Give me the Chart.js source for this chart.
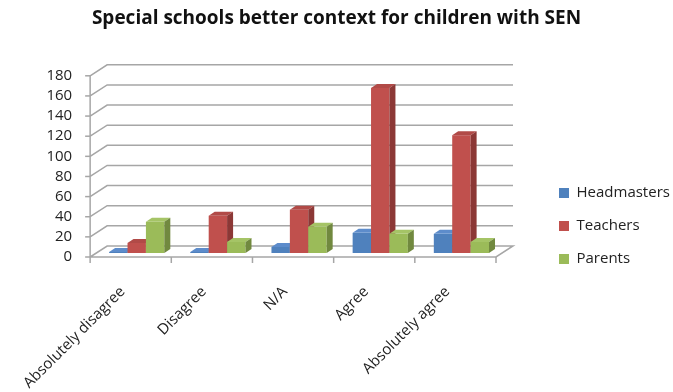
<!DOCTYPE html>
<html>
<head>
<meta charset="utf-8">
<script src="https://cdn.jsdelivr.net/npm/chart.js@4/dist/chart.umd.min.js"></script>
<style>
  html,body{margin:0;padding:0;background:#fff;}
  #wrap{width:673px;height:392px;}
</style>
</head>
<body>
<div id="wrap"><canvas id="chart" width="673" height="392"></canvas></div>
<script>
const categories=["Absolutely disagree","Disagree","N/A","Agree","Absolutely agree"];
const headmasters=[1,1,6,20,19];
const teachers=[10,37,43,164,117];
const parents=[31,11,26,19,11];
const yTicks=[0,20,40,60,80,100,120,140,160,180];

// front / top / side colours for the fake 3D bars
const shades={
  "#4F81BD":{top:"#5d8ccb",side:"#385d8a"},
  "#C0504D":{top:"#b14a47",side:"#8c3836"},
  "#9BBB59":{top:"#a5c466",side:"#71893f"}
};
const FONT="'Open Sans', sans-serif";

// walls + bars drawn by hand to get the Excel 3D look
const fake3d={
  id:"fake3d",
  beforeDatasetsDraw(chart){
    const ctx=chart.ctx, a=chart.chartArea, y=chart.scales.y;
    const gx=17, gy=11;
    ctx.save();
    ctx.strokeStyle="#a6a6a6";
    ctx.lineWidth=1.5;
    yTicks.forEach(v=>{
      const py=y.getPixelForValue(v);
      ctx.beginPath();
      ctx.moveTo(a.left,py);
      ctx.lineTo(a.left+gx,py-gy);
      ctx.lineTo(a.right+gx,py-gy);
      if(v===0){ ctx.lineTo(a.right,py); ctx.lineTo(a.left,py); }
      ctx.stroke();
      // little tick on the left axis
      ctx.beginPath();
      ctx.moveTo(a.left-5,py); ctx.lineTo(a.left,py); ctx.stroke();
    });
    // front left axis
    ctx.beginPath();
    ctx.moveTo(a.left,y.getPixelForValue(180));
    ctx.lineTo(a.left,a.bottom);
    ctx.stroke();
    // category ticks under the floor
    const step=(a.right-a.left)/categories.length;
    for(let i=0;i<=categories.length;i++){
      const px=a.left+i*step;
      ctx.beginPath(); ctx.moveTo(px,a.bottom); ctx.lineTo(px,a.bottom+6); ctx.stroke();
    }

    // bars
    const bx=6, by=4, sx=6, sy=-4;
    for(let i=0;i<categories.length;i++){
      chart.data.datasets.forEach((ds,d)=>{
        const el=chart.getDatasetMeta(d).data[i];
        const p=el.getProps(["x","y","base","width"],true);
        const l=p.x-p.width/2+sx, r=l+p.width, t=p.y+sy, b=p.base+sy;
        const c=ds.backgroundColor, s=shades[c];
        ctx.fillStyle=c;
        ctx.fillRect(l,t,r-l,b-t);
        ctx.fillStyle=s.top;
        ctx.beginPath();
        ctx.moveTo(l,t); ctx.lineTo(l+bx,t-by); ctx.lineTo(r+bx,t-by); ctx.lineTo(r,t);
        ctx.closePath(); ctx.fill();
        ctx.fillStyle=s.side;
        ctx.beginPath();
        ctx.moveTo(r,t); ctx.lineTo(r+bx,t-by); ctx.lineTo(r+bx,b-by); ctx.lineTo(r,b);
        ctx.closePath(); ctx.fill();
      });
    }
    ctx.restore();
    return false;
  }
};

const legendWidth={
  id:"legendWidth",
  beforeLayout(chart){
    const lg=chart.legend;
    if(lg && !lg._wide){
      const f=lg.fit;
      lg.fit=function(){ f.call(this); this.width=132; };
      lg._wide=true;
    }
  }
};

new Chart(document.getElementById("chart"),{
  type:"bar",
  data:{
    labels:categories,
    datasets:[
      {label:"Headmasters",data:headmasters,backgroundColor:"#4F81BD"},
      {label:"Teachers",data:teachers,backgroundColor:"#C0504D"},
      {label:"Parents",data:parents,backgroundColor:"#9BBB59"}
    ]
  },
  options:{
    responsive:false,
    animation:false,
    layout:{padding:0},
    datasets:{bar:{categoryPercentage:0.68,barPercentage:1}},
    scales:{
      x:{
        grid:{display:false,drawTicks:false},
        border:{display:false},
        ticks:{color:"#222",font:{family:FONT,size:15},minRotation:45,maxRotation:45,padding:26,labelOffset:-8,autoSkip:false},
        afterFit(s){ s.height=135; }
      },
      y:{
        min:0,max:180,
        grid:{display:false,drawTicks:false},
        border:{display:false},
        ticks:{stepSize:20,autoSkip:false,color:"#222",font:{family:FONT,size:15},padding:18},
        afterFit(s){ s.width=83; }
      },
      yr:{
        position:"right",
        grid:{display:false,drawTicks:false},
        border:{display:false},
        ticks:{display:false},
        afterFit(s){ s.width=45; }
      }
    },
    plugins:{
      title:{
        display:true,
        text:"Special schools better context for children with SEN",
        color:"#111",
        font:{family:FONT,size:19,weight:"bold"},
        padding:{top:7,bottom:46}
      },
      legend:{
        position:"right",
        title:{display:true,text:" ",color:"rgba(0,0,0,0)",font:{size:10},padding:{top:0,bottom:48}},
        labels:{boxWidth:10,boxHeight:10,padding:18,color:"#222",font:{family:FONT,size:15}}
      },
      tooltip:{enabled:false}
    }
  },
  plugins:[fake3d,legendWidth]
});
</script>
</body>
</html>
